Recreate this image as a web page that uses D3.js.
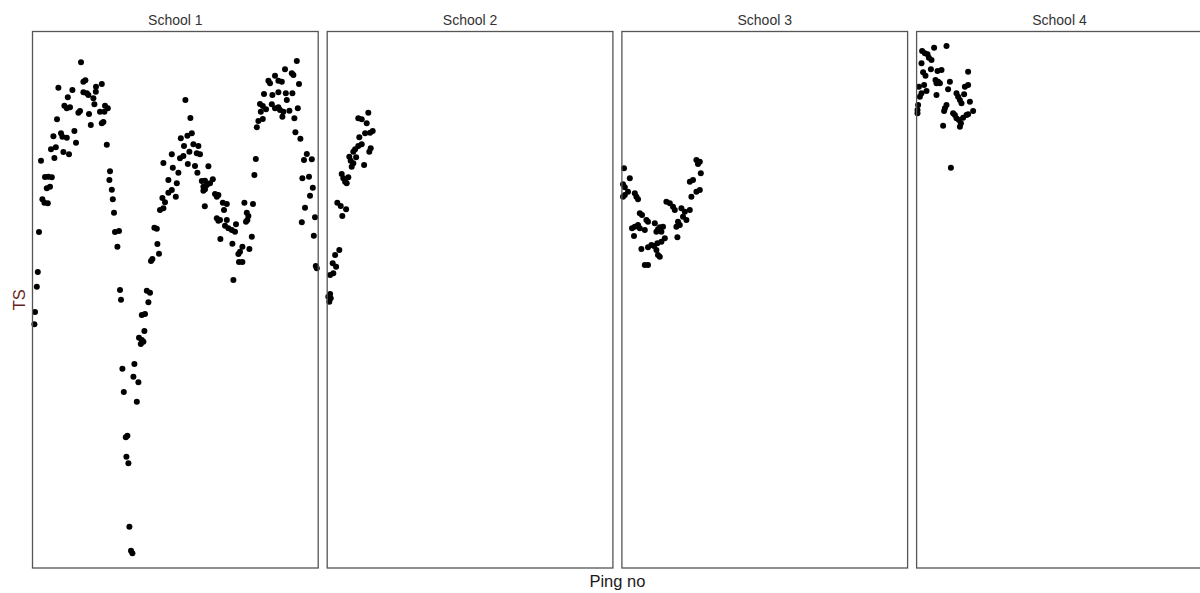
<!DOCTYPE html>
<html>
<head>
<meta charset="utf-8">
<script src="https://cdn.jsdelivr.net/npm/d3@7"></script>
<style>
  html, body { margin: 0; padding: 0; background: #fff; }
  svg { display: block; }
</style>
</head>
<body>
<svg id="chart" width="1200" height="593"></svg>
<script>
// ---- Data (ping number, TS in dB) ----
const schools = ["School 1", "School 2", "School 3", "School 4"];

const school1Ping = [24.5,25.7,26.7,13.2,20.2,17.9,25.7,27.4,28.2,32.0,34.9,30.7,31.2,31.9,16.2,17.4,19.0,23.2,24.0,28.5,34.0,36.5,37.9,36.2,29.4,34.9,35.7,12.5,21.2,10.7,14.5,15.2,17.4,22.0,37.4,9.5,11.9,15.7,18.5,11.2,4.5,6.5,8.2,9.9,7.4,9.0,5.2,6.2,7.9,3.5,2.9,2.4,1.5,1.2,
39.0,38.7,39.9,40.4,41.0,41.5,43.5,42.7,44.0,44.5,45.2,50.7,53.2,45.9,52.4,51.2,46.9,47.7,47.2,48.2,48.7,49.5,50.2,
54.9,56.5,57.4,59.0,58.2,56.2,53.5,54.9,55.7,54.4,60.2,59.5,63.5,62.7,61.2,62.4,64.0,65.7,65.2,66.5,68.2,69.9,68.2,69.9,65.7,70.4,
76.7,79.2,79.9,77.7,74.4,76.0,80.7,83.2,82.4,84.0,78.7,74.0,75.7,77.9,81.5,88.2,73.2,82.7,72.4,84.9,86.5,90.4,85.7,87.4,89.0,71.9,85.7,86.5,91.5,93.2,92.4,86.4,95.4,97.4,96.0,92.4,94.0,93.2,97.4,96.5,98.2,99.9,101.5,102.0,106.2,110.5,107.4,108.2,107.7,107.0,94.2,100.2,109.9,104.0,103.2,105.2,108.7,103.5,105.2,100.7,111.9,111.2,
132.4,126.5,129.9,130.7,121.5,118.2,119.0,123.2,124.9,133.5,116.0,120.2,123.2,126.9,130.2,127.4,114.0,115.4,119.9,121.5,123.2,124.0,125.7,128.7,132.9,114.4,117.0,125.2,131.2,115.4,113.2,112.4,131.7,134.2,137.4,136.0,139.9,135.2,138.5,140.4,139.0,136.5,141.5,134.9,140.9,141.9,142.4];
const school1TS = [-32.50,-34.06,-33.94,-34.54,-34.72,-35.30,-34.90,-34.98,-35.12,-34.46,-34.24,-35.38,-35.86,-34.86,-35.98,-36.18,-36.10,-36.54,-36.40,-36.64,-36.46,-35.98,-36.18,-36.46,-37.52,-37.38,-37.28,-37.06,-38.00,-38.42,-38.18,-38.46,-38.54,-38.94,-39.10,-39.46,-39.30,-39.68,-39.86,-40.16,-40.38,-41.68,-41.66,-41.70,-42.58,-42.46,-43.46,-43.74,-43.78,-46.08,-49.28,-50.46,-52.48,-53.46,
-41.22,-41.92,-42.70,-43.46,-44.54,-46.08,-46.00,-47.26,-50.72,-51.50,-57.02,-57.66,-58.10,-58.88,-59.66,-56.64,-62.50,-62.38,-64.06,-64.58,-69.66,-71.58,-71.78,
-52.72,-52.64,-50.78,-50.94,-51.70,-54.00,-54.54,-54.72,-54.86,-55.04,-48.24,-48.40,-47.82,-47.04,-45.74,-45.82,-44.32,-44.18,-43.36,-43.70,-42.94,-42.72,-41.92,-39.86,-40.56,-40.94,
-35.52,-36.96,-38.18,-38.38,-38.58,-39.20,-39.06,-39.20,-39.78,-39.86,-39.66,-40.18,-40.00,-40.64,-40.80,-40.82,-41.34,-41.34,-42.18,-42.00,-41.98,-41.86,-42.46,-42.32,-42.18,-43.26,-42.78,-42.66,-43.04,-43.12,-43.26,-44.02,-43.74,-43.84,-44.32,-44.98,-45.12,-45.18,-45.12,-45.58,-45.78,-45.92,-46.06,-45.46,-43.74,-43.84,-44.54,-44.80,-45.12,-45.26,-46.64,-47.02,-46.46,-47.66,-47.84,-47.26,-47.44,-48.48,-48.48,-49.92,-40.24,-41.52,
-32.40,-33.06,-33.38,-33.52,-33.58,-33.98,-34.18,-33.98,-34.06,-34.24,-35.04,-35.12,-34.90,-34.98,-34.98,-35.52,-35.84,-36.00,-35.86,-36.18,-36.10,-36.32,-36.46,-36.38,-36.18,-36.46,-36.26,-36.86,-36.98,-37.04,-37.20,-37.70,-38.10,-38.62,-39.84,-40.32,-40.26,-41.78,-41.66,-42.54,-43.18,-44.14,-44.90,-45.30,-46.38,-48.80,-48.98];

const school2Ping = [20.8,15.8,17.5,20.0,23.0,21.7,19.2,16.3,17.5,15.8,22.0,21.3,14.2,13.3,11.3,14.7,12.0,13.3,12.5,18.7,7.5,8.3,10.8,9.2,10.0,5.3,7.0,9.7,7.8,6.3,4.2,3.0,4.7,1.7,3.3,1.7,0.8,2.0,1.3];
const school2TS = [-36.54,-36.98,-37.06,-37.38,-38.00,-38.14,-38.18,-38.50,-39.06,-39.20,-39.38,-39.66,-39.46,-39.66,-40.06,-40.10,-40.38,-40.58,-40.86,-40.72,-41.44,-41.78,-41.70,-42.06,-42.18,-43.74,-44.00,-44.26,-44.80,-47.52,-47.92,-48.58,-48.86,-49.52,-49.38,-51.04,-51.26,-51.38,-51.66];

const school3Ping = [1.3,4.2,0.8,1.7,3.3,1.7,0.8,6.7,7.5,8.3,9.2,10.3,12.5,13.3,8.3,6.7,5.3,9.2,11.7,6.3,16.7,18.3,17.5,20.0,20.8,19.2,21.7,20.0,18.0,16.3,17.5,18.3,19.2,15.0,13.3,10.0,11.7,13.3,22.5,24.2,25.8,26.7,30.0,31.7,34.2,30.8,32.5,28.3,29.2,27.5,28.0,35.0,37.5,39.2,34.2,35.8,39.7,37.5,39.2,38.3];
const school3TS = [-40.98,-41.78,-42.26,-42.50,-42.86,-43.12,-43.26,-42.98,-43.26,-43.46,-44.58,-44.72,-45.12,-45.26,-45.52,-45.66,-45.78,-45.78,-45.92,-46.40,-45.38,-45.86,-46.06,-46.06,-45.66,-45.70,-46.58,-46.86,-46.98,-47.20,-47.52,-47.92,-48.06,-47.12,-47.30,-47.44,-48.72,-48.72,-43.66,-43.78,-44.06,-44.32,-44.18,-44.46,-44.32,-44.86,-45.12,-45.26,-45.52,-45.66,-46.50,-43.26,-42.86,-42.72,-42.06,-41.92,-41.38,-40.32,-40.46,-40.64];

const school4Ping = [15.2,9.0,3.0,4.4,5.7,6.4,7.7,2.7,7.4,10.7,12.7,3.5,4.7,9.7,11.0,11.9,10.2,16.9,26.0,4.0,1.4,16.0,5.2,2.7,1.9,10.2,24.4,26.0,20.2,21.0,21.9,24.0,22.7,1.0,0.7,0.7,15.2,14.4,14.0,26.9,28.5,18.5,19.4,20.2,21.4,22.4,21.9,23.5,25.2,26.0,13.5,17.4];
const school4TS = [-31.20,-31.34,-31.60,-31.78,-31.86,-32.14,-32.32,-32.58,-33.06,-33.20,-33.12,-33.30,-33.58,-33.92,-34.06,-34.18,-34.18,-34.06,-33.26,-34.32,-34.46,-34.66,-34.80,-34.98,-35.26,-35.12,-34.46,-34.32,-34.98,-35.26,-35.52,-35.06,-35.78,-35.92,-36.32,-36.58,-35.92,-36.18,-36.40,-35.66,-36.40,-36.58,-36.72,-36.98,-37.12,-37.38,-37.66,-36.94,-36.72,-36.66,-37.58,-40.94];

const pingDomain = [0, 143.35];
const tsDomain = [-73, -30];
const xTitle = "Ping no";
const yTitle = "TS";

// ---- Layout ----
const W = 1200, H = 593;
const plotLeft = 32, plotTop = 31, plotBottom = 568.5;
const panelW = 286.7, gap = 8;
const panelH = plotBottom - plotTop;

const svg = d3.select("#chart");
const fontFam = "'Liberation Sans', Arial, Helvetica, sans-serif";

const pings = [school1Ping, school2Ping, school3Ping, school4Ping];
const tss = [school1TS, school2TS, school3TS, school4TS];

const panelX = d3.scaleBand()
  .domain(schools)
  .range([plotLeft, plotLeft + 4 * panelW + 3 * gap])
  .paddingInner(gap / (panelW + gap))
  .paddingOuter(0);

const x = d3.scaleLinear().domain(pingDomain).range([0, panelW]);
const y = d3.scaleLinear().domain(tsDomain).range([panelH, 0]);

schools.forEach((name, i) => {
  const left = panelX(name);
  const g = svg.append("g").attr("transform", `translate(${left},${plotTop})`);

  const data = pings[i].map((p, k) => ({ p, t: tss[i][k] }));
  g.selectAll("circle").data(data).enter().append("circle")
    .attr("cx", d => x(d.p))
    .attr("cy", d => y(d.t))
    .attr("r", 3)
    .attr("fill", "#000");

  g.append("rect")
    .attr("x", 0.5).attr("y", 0.5)
    .attr("width", panelX.bandwidth() - 1)
    .attr("height", panelH - 1)
    .attr("fill", "none")
    .attr("stroke", "#555")
    .attr("stroke-width", 1.3);

  svg.append("text")
    .attr("x", left + panelX.bandwidth() / 2)
    .attr("y", 24.5)
    .attr("text-anchor", "middle")
    .attr("font-family", fontFam)
    .attr("font-size", 14)
    .attr("fill", "#333")
    .text(name);
});

svg.append("text")
  .attr("x", (plotLeft + plotLeft + 4 * panelW + 3 * gap) / 2)
  .attr("y", 587)
  .attr("text-anchor", "middle")
  .attr("font-family", fontFam)
  .attr("font-size", 16.5)
  .attr("fill", "#1a1a1a")
  .text(xTitle);

svg.append("text")
  .attr("transform", `translate(24.5,${(plotTop + plotBottom) / 2}) rotate(-90)`)
  .attr("text-anchor", "middle")
  .attr("font-family", fontFam)
  .attr("font-size", 16.5)
  .attr("fill", "#6a1c1c")
  .text(yTitle);
</script>
</body>
</html>
